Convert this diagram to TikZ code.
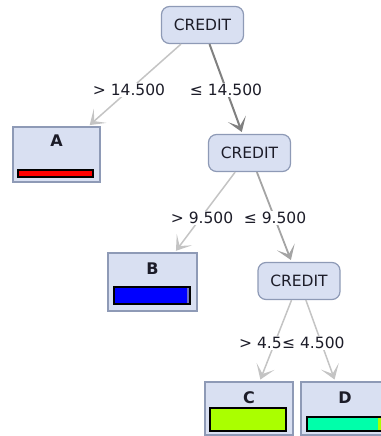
\documentclass[tikz,border=0pt]{standalone}
\usepackage{fontspec}
\setmainfont{DejaVu Sans}
\usetikzlibrary{arrows.meta}
\definecolor{boxfill}{HTML}{D9E0F2}
\definecolor{boxline}{HTML}{8E9AB6}
\definecolor{txt}{HTML}{1C1C28}
\definecolor{edgelight}{HTML}{C4C4C4}
\definecolor{edgemid}{HTML}{A4A4A4}
\definecolor{edgedark}{HTML}{808080}
\definecolor{clsA}{HTML}{FF0000}
\definecolor{clsB}{HTML}{0000FF}
\definecolor{clsC}{HTML}{AAFF00}
\definecolor{clsD}{HTML}{00FFAA}
\definecolor{sliverB}{HTML}{7070C0}
\tikzset{chevron/.tip={Stealth[length=14pt,width=19pt,inset=8pt]}}
\begin{document}
\begin{tikzpicture}[x=1pt,y=-1pt,
  attr/.style={draw=boxline, fill=boxfill, line width=1.2pt, rounded corners=8pt,
    minimum width=82pt, minimum height=37pt, inner sep=0pt,
    font=\fontsize{15.5}{18}\selectfont, text=txt},
  leafbox/.style={draw=boxline, fill=boxfill, line width=1.2pt, inner sep=0pt,
    minimum width=88pt, minimum height=55pt},
  leaflabel/.style={font=\fontsize{16}{18}\selectfont\bfseries, text=txt, inner sep=0pt},
  bar/.style={draw=black, line width=1.4pt},
  cond/.style={fill=white, inner sep=1pt, font=\fontsize{15.5}{18}\selectfont, text=txt},
  branch/.style={line width=#1, shorten >=2pt, arrows={-chevron}},
]
\useasboundingbox (0,0) rectangle (380,436);

% split nodes
\node[attr] (root) at (202.5,25) {CREDIT};
\node[attr] (mid) at (249.5,153) {CREDIT};
\node[attr] (low) at (299,281) {CREDIT};

% leaves
\node[leafbox, minimum width=87pt, minimum height=55pt] (leafA) at (56.5,154.5) {};
\node[leafbox, minimum width=89pt, minimum height=58pt] (leafB) at (152.5,282) {};
\node[leafbox, minimum width=88pt, minimum height=53pt] (leafC) at (249,408.5) {};
\node[leafbox, minimum width=88pt, minimum height=53pt] (leafD) at (345,408.5) {};

\node[leaflabel] (nameA) at (56.5,140.5) {A};
\node[leaflabel] (nameB) at (152.5,269) {B};
\node[leaflabel] (nameC) at (249,397.5) {C};
\node[leaflabel] (nameD) at (345,397.5) {D};

% class distribution bars
\draw[bar, fill=clsA] (18,170) rectangle (93,177);
\fill[clsB] (114,287) rectangle (190,304);
\fill[sliverB] (187,287) rectangle (190,304);
\draw[bar] (114,287) rectangle (190,304);
\draw[bar, fill=clsC] (210,408) rectangle (286,431);
\fill[clsD] (307,417) rectangle (383,431);
\fill[clsC] (378,417) rectangle (383,431);
\draw[bar] (307,417) rectangle (383,431);

% branches
\draw[branch=1.5pt, draw=edgelight, fill=edgelight] (root) -- (leafA);
\draw[branch=2pt, draw=edgedark, fill=edgedark] (root) -- (mid);
\draw[branch=1.5pt, draw=edgelight, fill=edgelight] (mid) -- (leafB);
\draw[branch=1.8pt, draw=edgemid, fill=edgemid] (mid) -- (low);
\draw[branch=1.5pt, draw=edgelight, fill=edgelight] (low) -- (leafC);
\draw[branch=1.5pt, draw=edgelight, fill=edgelight] (low) -- (leafD);

% split conditions
\node[cond] (c1) at (129,90) {> 14.500};
\node[cond] (c2) at (226,90) {≤ 14.500};
\node[cond] (c3) at (202,218) {> 9.500};
\node[cond] (c4) at (275,218) {≤ 9.500};
\node[cond, anchor=west] (c5) at (238,343) {> 4.500};
\node[cond, anchor=west] (c6) at (281,343) {≤ 4.500};
\end{tikzpicture}
\end{document}
